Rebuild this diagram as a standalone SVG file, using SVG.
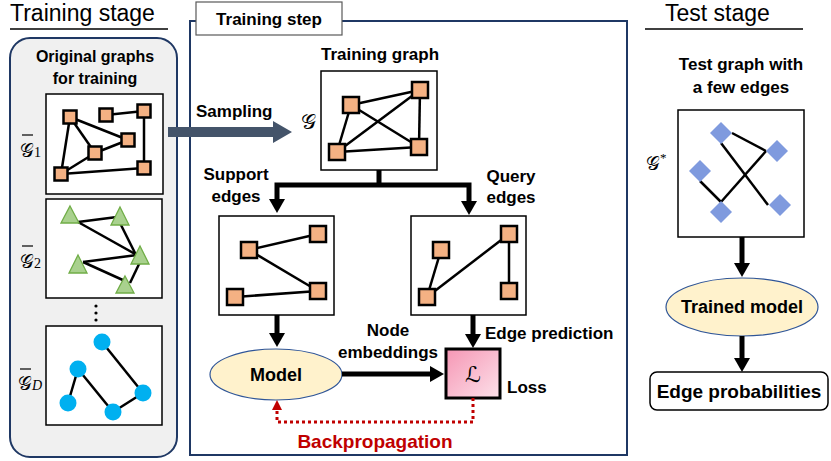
<svg xmlns="http://www.w3.org/2000/svg" width="831" height="461" viewBox="0 0 831 461">
<style>
text{font-family:"Liberation Sans",Arial,sans-serif;fill:#000}
.b{font-weight:bold;font-size:17px}
.title{font-size:23px}
.math{font-family:"DejaVu Serif","DejaVu Sans","Liberation Serif",serif;font-size:19px}
.sub{font-family:"Liberation Serif",serif;font-size:14px}
.gbox{fill:#fff;stroke:#000;stroke-width:1.5}
.edge{stroke:#000;stroke-width:2.5;fill:none}
.sq{fill:#f4b183;stroke:#000;stroke-width:2.5}
.tri{fill:#a9d18e;stroke:#70ad47;stroke-width:1.3}
.circ{fill:#00b0f0}
.dia{fill:#7f9ade}
.thick{stroke:#000;stroke-width:5;fill:none}
.ell{fill:#fff2cc;stroke:#2f5597;stroke-width:1.2}
.panel{stroke:#1f3864;stroke-width:2}
.bar{stroke:#000;stroke-width:1.2}
</style>
<defs>
<marker id="ah" viewBox="0 0 14 16" refX="0" refY="8" markerWidth="14" markerHeight="16" markerUnits="userSpaceOnUse" orient="auto-start-reverse">
<path d="M0,0 L14,8 L0,16 Z" fill="#000"/>
</marker>
<marker id="ahr" viewBox="0 0 10 10" refX="0" refY="5" markerWidth="10" markerHeight="10" markerUnits="userSpaceOnUse" orient="auto">
<path d="M0,0 L10,5 L0,10 Z" fill="#c00000"/>
</marker>
<linearGradient id="pink" x1="0" y1="0" x2="1" y2="1">
<stop offset="0" stop-color="#f596b4"/>
<stop offset="1" stop-color="#fde1ea"/>
</linearGradient>
</defs>

<!-- Training stage -->
<g id="training-stage">
<text class="title" x="10" y="21">Training stage</text>
<line x1="10" y1="29" x2="168" y2="29" stroke="#000" stroke-width="1.5"/>
<rect class="panel" x="10" y="38" width="167" height="419" rx="20" fill="#f0f0f0"/>
<text class="b" x="95" y="62" text-anchor="middle" style="font-size:16px">Original graphs</text>
<text class="b" x="95" y="84" text-anchor="middle" style="font-size:16px">for training</text>
</g>

<g id="graph-g1">
<rect class="gbox" x="46" y="94" width="117" height="100"/>
<g class="edge">
<line x1="106" y1="115" x2="144" y2="111"/>
<line x1="70" y1="117" x2="128" y2="140"/>
<line x1="70" y1="117" x2="95" y2="153"/>
<line x1="70" y1="117" x2="61" y2="174"/>
<line x1="61" y1="174" x2="95" y2="153"/>
<line x1="95" y1="153" x2="128" y2="140"/>
<line x1="61" y1="174" x2="144" y2="168"/>
<line x1="144" y1="111" x2="144" y2="168"/>
</g>
<g class="sq">
<rect x="63.5" y="110.5" width="13" height="13"/>
<rect x="99.5" y="108.5" width="13" height="13"/>
<rect x="137.5" y="104.5" width="13" height="13"/>
<rect x="121.5" y="133.5" width="13" height="13"/>
<rect x="88.5" y="146.5" width="13" height="13"/>
<rect x="54.5" y="167.5" width="13" height="13"/>
<rect x="137.5" y="161.5" width="13" height="13"/>
</g>
<text class="math" x="20" y="157">𝒢<tspan class="sub">1</tspan></text>
<line class="bar" x1="22" y1="135" x2="33" y2="135"/>
</g>

<g id="graph-g2">
<rect class="gbox" x="46" y="199" width="116" height="99"/>
<g class="edge">
<line x1="78" y1="222" x2="117" y2="217"/>
<line x1="78" y1="222" x2="137" y2="255"/>
<line x1="120" y1="223" x2="136" y2="255"/>
<line x1="83" y1="262" x2="137" y2="255"/>
<line x1="83" y1="262" x2="125" y2="281"/>
<line x1="130" y1="283" x2="140" y2="262"/>
</g>
<g class="tri">
<polygon points="70,206 79,223 61,223"/>
<polygon points="120,207 129,225 111,225"/>
<polygon points="140,246 149,264 131,264"/>
<polygon points="78,255 87,273 69,273"/>
<polygon points="125,276 134,293 116,293"/>
</g>
<text class="math" x="20" y="268">𝒢<tspan class="sub">2</tspan></text>
<line class="bar" x1="22" y1="246" x2="33" y2="246"/>
</g>

<g id="ellipsis">
<circle cx="96" cy="306" r="1.6"/>
<circle cx="96" cy="313" r="1.6"/>
<circle cx="96" cy="320" r="1.6"/>
</g>

<g id="graph-gd">
<rect class="gbox" x="46" y="326" width="116" height="99"/>
<g class="edge">
<line x1="102" y1="342" x2="143" y2="393"/>
<line x1="78" y1="369" x2="68" y2="403"/>
<line x1="78" y1="369" x2="113" y2="412"/>
<line x1="113" y1="412" x2="143" y2="393"/>
</g>
<g class="circ">
<circle cx="102" cy="342" r="8.5"/>
<circle cx="78" cy="369" r="8.5"/>
<circle cx="68" cy="403" r="8.5"/>
<circle cx="113" cy="412" r="8.5"/>
<circle cx="143" cy="393" r="8.5"/>
</g>
<text class="math" x="18" y="390">𝒢<tspan class="sub" font-style="italic">D</tspan></text>
<line class="bar" x1="20" y1="369" x2="31" y2="369"/>
</g>

<!-- Training step panel -->
<g id="training-step">
<rect class="panel" x="190" y="21" width="437" height="434" fill="#fff"/>
<rect x="196" y="2" width="146" height="33" fill="#fff" stroke="#595959" stroke-width="1.2"/>
<text class="b" x="269" y="25" text-anchor="middle">Training step</text>
</g>

<g id="training-graph">
<text class="b" x="380" y="60" text-anchor="middle">Training graph</text>
<rect class="gbox" x="321" y="71" width="116" height="99"/>
<g class="edge">
<line x1="351" y1="105" x2="420" y2="90"/>
<line x1="351" y1="105" x2="337" y2="152"/>
<line x1="351" y1="105" x2="419" y2="147"/>
<line x1="337" y1="152" x2="420" y2="90"/>
<line x1="337" y1="152" x2="419" y2="147"/>
<line x1="420" y1="90" x2="419" y2="147"/>
</g>
<g class="sq">
<rect x="343" y="97" width="16" height="16"/>
<rect x="412" y="82" width="16" height="16"/>
<rect x="329" y="144" width="16" height="16"/>
<rect x="411" y="139" width="16" height="16"/>
</g>
<text class="math" x="301" y="129" style="font-size:21px">𝒢</text>
</g>

<g id="support-graph">
<text class="b" x="236" y="180" text-anchor="middle">Support</text>
<text class="b" x="236" y="202" text-anchor="middle">edges</text>
<rect class="gbox" x="219" y="216" width="115" height="99"/>
<g class="edge">
<line x1="249" y1="250" x2="318" y2="234"/>
<line x1="249" y1="250" x2="318" y2="291"/>
<line x1="235" y1="297" x2="318" y2="291"/>
</g>
<g class="sq">
<rect x="241" y="242" width="16" height="16"/>
<rect x="310" y="226" width="16" height="16"/>
<rect x="227" y="289" width="16" height="16"/>
<rect x="310" y="283" width="16" height="16"/>
</g>
</g>

<g id="query-graph">
<text class="b" x="511" y="182" text-anchor="middle">Query</text>
<text class="b" x="511" y="203" text-anchor="middle">edges</text>
<rect class="gbox" x="411" y="216" width="115" height="99"/>
<g class="edge">
<line x1="441" y1="250" x2="427" y2="297"/>
<line x1="427" y1="297" x2="509" y2="234"/>
<line x1="509" y1="234" x2="509" y2="291"/>
</g>
<g class="sq">
<rect x="433" y="242" width="16" height="16"/>
<rect x="501" y="226" width="16" height="16"/>
<rect x="419" y="289" width="16" height="16"/>
<rect x="501" y="283" width="16" height="16"/>
</g>
</g>

<g id="model">
<ellipse class="ell" cx="276" cy="374.5" rx="66" ry="25.5"/>
<text class="b" x="276" y="381" text-anchor="middle" style="font-size:18px">Model</text>
</g>

<g id="loss">
<rect x="446" y="349" width="54" height="49" fill="url(#pink)" stroke="#000" stroke-width="3"/>
<text class="math" x="473" y="382" text-anchor="middle" style="font-size:22px">ℒ</text>
<text class="b" x="507" y="393">Loss</text>
</g>

<g id="labels">
<text class="b" x="196" y="117">Sampling</text>
<text class="b" x="388" y="336" text-anchor="middle">Node</text>
<text class="b" x="388" y="358" text-anchor="middle">embeddings</text>
<text class="b" x="485" y="339">Edge prediction</text>
<text class="b" x="375" y="448" text-anchor="middle" style="font-size:19px;fill:#c00000">Backpropagation</text>
</g>

<!-- Test stage -->
<g id="test-stage">
<text class="title" x="665" y="21">Test stage</text>
<line x1="645" y1="29" x2="803" y2="29" stroke="#000" stroke-width="1.5"/>
</g>

<g id="test-graph">
<text class="b" x="741" y="70" text-anchor="middle">Test graph with</text>
<text class="b" x="741" y="93" text-anchor="middle">a few edges</text>
<rect class="gbox" x="678" y="110" width="126" height="127"/>
<g class="edge">
<line x1="732" y1="133" x2="766" y2="151"/>
<line x1="721" y1="143" x2="768" y2="205"/>
<line x1="700" y1="181" x2="721" y2="202"/>
<line x1="721" y1="202" x2="766" y2="151"/>
</g>
<g class="dia">
<polygon points="721,122 732,133 721,144 710,133"/>
<polygon points="777,140 788,151 777,162 766,151"/>
<polygon points="700,160 711,171 700,182 689,171"/>
<polygon points="721,201 732,212 721,223 710,212"/>
<polygon points="780,194 791,205 780,216 769,205"/>
</g>
<text class="math" x="646" y="170">𝒢<tspan class="sub" dy="-8" style="font-size:13px">*</tspan></text>
</g>

<g id="trained-model">
<ellipse class="ell" cx="742" cy="307" rx="76" ry="29"/>
<text class="b" x="742" y="313" text-anchor="middle" style="font-size:18px">Trained model</text>
</g>

<g id="edge-probabilities">
<rect x="650" y="372" width="178" height="38" rx="7" fill="#fff" stroke="#000" stroke-width="1.5"/>
<text class="b" x="739" y="398" text-anchor="middle" style="font-size:19px">Edge probabilities</text>
</g>

<!-- Connectors -->
<g id="connectors">
<polygon points="168,127 273,127 273,121 292,132 273,143 273,137 168,137" fill="#44546a"/>
<path class="thick" d="M379,170 V185"/>
<path class="thick" d="M277,199 V185 H469 V201" marker-start="url(#ah)" marker-end="url(#ah)"/>
<path class="thick" d="M277,315 V333" marker-end="url(#ah)"/>
<path class="thick" d="M473,315 V334" marker-end="url(#ah)"/>
<path class="thick" d="M342,374 H430" marker-end="url(#ah)"/>
<path class="thick" d="M742,237 V263" marker-end="url(#ah)"/>
<path class="thick" d="M742,336 V358" marker-end="url(#ah)"/>
<path d="M473,398 V422 H277 V410" fill="none" stroke="#c00000" stroke-width="3" stroke-dasharray="3 3" marker-end="url(#ahr)"/>
</g>
</svg>
